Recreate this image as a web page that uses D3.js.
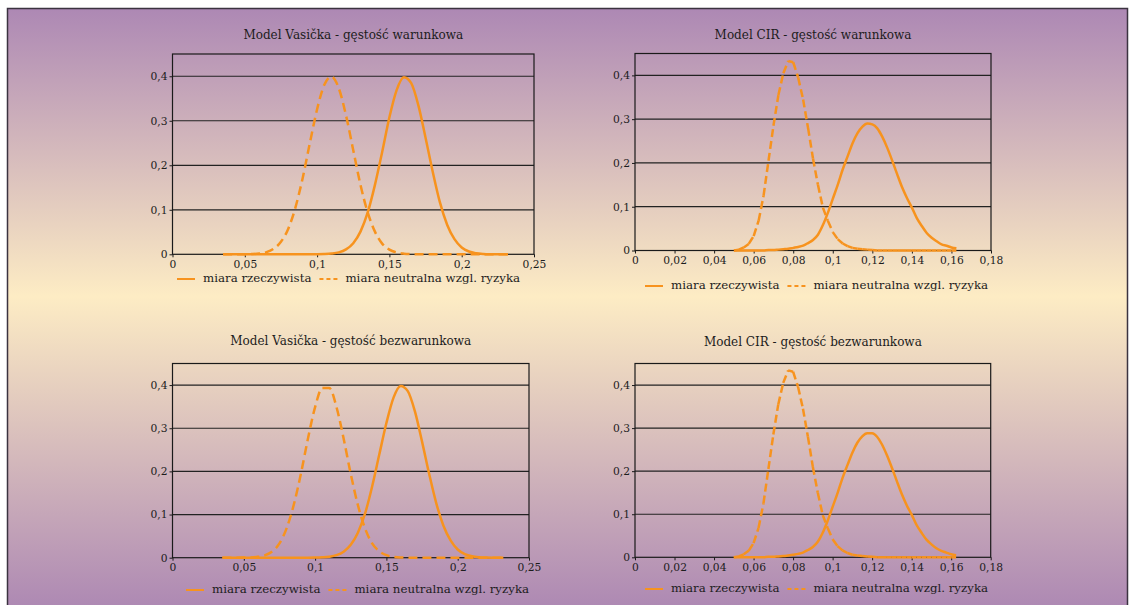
<!DOCTYPE html>
<html>
<head>
<meta charset="utf-8">
<script src="https://cdn.jsdelivr.net/npm/d3@7"></script>
<style>
  body { margin: 0; background: #fff; }
  svg { display: block; }
  text { font-family: "DejaVu Serif", serif; fill: #1c1c1c; }
</style>
</head>
<body>
<div id="chart"></div>
<script>
// titles and legend
const titles = [
  "Model Vasička - gęstość warunkowa",
  "Model CIR - gęstość warunkowa",
  "Model Vasička - gęstość bezwarunkowa",
  "Model CIR - gęstość bezwarunkowa"
];
const seriesNames = ["miara rzeczywista", "miara neutralna wzgl. ryzyka"];

// ticks
const vasXTicks = [0, 0.05, 0.1, 0.15, 0.2, 0.25];
const cirXTicks = [0, 0.02, 0.04, 0.06, 0.08, 0.1, 0.12, 0.14, 0.16, 0.18];
const yTicks = [0, 0.1, 0.2, 0.3, 0.4];

// Vasicek: x grid
const vasX = [0.035, 0.04, 0.045, 0.05, 0.055, 0.06, 0.065, 0.07, 0.075, 0.08,
  0.085, 0.09, 0.095, 0.1, 0.105, 0.11, 0.115, 0.12, 0.125, 0.13,
  0.135, 0.14, 0.145, 0.15, 0.155, 0.16, 0.165, 0.17, 0.175, 0.18,
  0.185, 0.19, 0.195, 0.2, 0.205, 0.21, 0.215, 0.22, 0.225, 0.23, 0.232];

const vasRealCond = [0, 0, 0, 0, 0, 0, 0, 0, 0, 0,
  0, 0, 0, 0.0001, 0.0005, 0.0016, 0.0043, 0.011, 0.025, 0.051,
  0.094, 0.156, 0.23, 0.308, 0.369, 0.398, 0.385, 0.335, 0.262, 0.185,
  0.116, 0.066, 0.034, 0.0154, 0.0063, 0.0024, 0.0008, 0.0002, 0, 0, 0];
const vasNeutralCond = [0, 0, 0, 0.0001, 0.0005, 0.0017, 0.0048, 0.0125, 0.028, 0.057,
  0.105, 0.171, 0.25, 0.326, 0.381, 0.399, 0.373, 0.312, 0.234, 0.156,
  0.094, 0.051, 0.024, 0.0104, 0.004, 0.0014, 0.0004, 0, 0, 0,
  0, 0, 0, 0, 0, 0, 0, 0, 0, 0, 0];

const vasRealUncond = [0, 0, 0, 0, 0, 0, 0, 0, 0, 0,
  0, 0, 0, 0.0002, 0.0008, 0.0022, 0.0058, 0.014, 0.03, 0.058,
  0.102, 0.165, 0.239, 0.312, 0.371, 0.398, 0.386, 0.339, 0.269, 0.194,
  0.126, 0.074, 0.04, 0.019, 0.0083, 0.0033, 0.0012, 0.0004, 0.0001, 0, 0];
const vasNeutralUncond = [0, 0, 0, 0.0002, 0.0006, 0.002, 0.0058, 0.0148, 0.033, 0.068,
  0.122, 0.194, 0.276, 0.349, 0.393, 0.393, 0.349, 0.276, 0.194, 0.122,
  0.068, 0.033, 0.0148, 0.0058, 0.002, 0.0006, 0.0002, 0, 0, 0,
  0, 0, 0, 0, 0, 0, 0, 0, 0, 0, 0];

// CIR: x grid
const cirX = [0.05, 0.0525, 0.055, 0.0575, 0.06, 0.0625, 0.065, 0.0675, 0.07, 0.0725,
  0.075, 0.0775, 0.08, 0.0825, 0.085, 0.0875, 0.09, 0.0925, 0.095, 0.0975,
  0.1, 0.1025, 0.105, 0.1075, 0.11, 0.1125, 0.115, 0.1175, 0.12, 0.1225,
  0.125, 0.1275, 0.13, 0.1325, 0.135, 0.1375, 0.14, 0.1425, 0.145, 0.1475,
  0.15, 0.1525, 0.155, 0.1575, 0.16, 0.1625];

const cirRealCond = [0, 0, 0, 0, 0, 0, 0, 0.001, 0.001, 0.002,
  0.003, 0.004, 0.006, 0.008, 0.011, 0.017, 0.024, 0.036, 0.058, 0.086,
  0.118, 0.15, 0.185, 0.215, 0.245, 0.268, 0.283, 0.29, 0.288, 0.279,
  0.26, 0.235, 0.206, 0.175, 0.145, 0.12, 0.098, 0.074, 0.056, 0.04,
  0.029, 0.021, 0.014, 0.011, 0.007, 0.005];
const cirNeutralCond = [0, 0.002, 0.007, 0.015, 0.033, 0.068, 0.125, 0.205, 0.285, 0.355,
  0.405, 0.433, 0.43, 0.395, 0.345, 0.28, 0.21, 0.15, 0.098, 0.068,
  0.042, 0.026, 0.016, 0.01, 0.006, 0.004, 0.003, 0.002, 0.001, 0,
  0, 0, 0, 0, 0, 0, 0, 0, 0, 0,
  0, 0, 0, 0, 0, 0];

const cirRealUncond = [0, 0, 0, 0, 0, 0, 0, 0.001, 0.001, 0.002,
  0.003, 0.004, 0.006, 0.008, 0.011, 0.017, 0.024, 0.036, 0.057, 0.085,
  0.117, 0.149, 0.184, 0.214, 0.243, 0.266, 0.281, 0.288, 0.288, 0.28,
  0.262, 0.237, 0.208, 0.177, 0.147, 0.121, 0.099, 0.075, 0.057, 0.041,
  0.03, 0.021, 0.015, 0.011, 0.007, 0.005];
const cirNeutralUncond = [0, 0.002, 0.007, 0.015, 0.033, 0.068, 0.125, 0.205, 0.285, 0.355,
  0.405, 0.434, 0.431, 0.396, 0.345, 0.28, 0.21, 0.15, 0.098, 0.068,
  0.042, 0.026, 0.016, 0.01, 0.006, 0.004, 0.003, 0.002, 0.001, 0,
  0, 0, 0, 0, 0, 0, 0, 0, 0, 0,
  0, 0, 0, 0, 0, 0];

const W = 1130, H = 605;
const orange = "#f7931e";
const pl = d3.formatLocale({ decimal: ",", thousands: " ", grouping: [3], currency: ["", " zł"] });
const fmt = pl.format("~g");

const svg = d3.select("#chart").append("svg").attr("width", W).attr("height", H);

// background gradient
const grad = svg.append("defs").append("linearGradient")
  .attr("id", "bg").attr("x1", 0).attr("y1", 0).attr("x2", 0).attr("y2", 1);
grad.append("stop").attr("offset", "0%").attr("stop-color", "#ad88b4");
grad.append("stop").attr("offset", "48%").attr("stop-color", "#fdecc4");
grad.append("stop").attr("offset", "100%").attr("stop-color", "#ad88b3");

svg.append("rect")
  .attr("x", 7.5).attr("y", 8.5).attr("width", 1120).attr("height", 600)
  .attr("fill", "url(#bg)").attr("stroke", "#3b3340").attr("stroke-width", 1.5);

const panels = [
  { title: titles[0], xs: vasX, real: vasRealCond, neutral: vasNeutralCond, ticks: vasXTicks, xMax: 0.25,
    box: [172.5, 54, 534, 254.3], titleY: 35, legend: [177, 279], seg: false },
  { title: titles[1], xs: cirX, real: cirRealCond, neutral: cirNeutralCond, ticks: cirXTicks, xMax: 0.18,
    box: [635, 53.5, 991, 250.5], titleY: 35, legend: [645, 286], seg: true },
  { title: titles[2], xs: vasX, real: vasRealUncond, neutral: vasNeutralUncond, ticks: vasXTicks, xMax: 0.25,
    box: [172.5, 363.5, 529, 557.7], titleY: 341, legend: [186, 590], seg: false },
  { title: titles[3], xs: cirX, real: cirRealUncond, neutral: cirNeutralUncond, ticks: cirXTicks, xMax: 0.18,
    box: [635, 363.5, 990.7, 557.3], titleY: 342, legend: [645, 589], seg: true }
];

panels.forEach(p => {
  const [x0, y0, x1, y1] = p.box;
  const x = d3.scaleLinear().domain([0, p.xMax]).range([x0, x1]);
  const y = d3.scaleLinear().domain([0, 0.45]).range([y1, y0]);
  const g = svg.append("g");

  // title
  g.append("text")
    .attr("x", (x0 + x1) / 2).attr("y", p.titleY)
    .attr("text-anchor", "middle").attr("dominant-baseline", "middle")
    .style("font-size", "12px")
    .text(p.title);

  // gridlines
  g.append("g").selectAll("line")
    .data(yTicks.filter(d => d > 0))
    .join("line")
    .attr("x1", x0).attr("x2", x1)
    .attr("y1", d => y(d)).attr("y2", d => y(d))
    .attr("stroke", "#222").attr("stroke-width", 1.2);

  // frame
  g.append("rect")
    .attr("x", x0).attr("y", y0).attr("width", x1 - x0).attr("height", y1 - y0)
    .attr("fill", "none").attr("stroke", "#1a1a1a").attr("stroke-width", 1.2);

  // axes
  const ax = g.append("g").attr("transform", `translate(0,${y1})`)
    .call(d3.axisBottom(x).tickValues(p.ticks).tickFormat(fmt).tickSize(3).tickPadding(3));
  const ay = g.append("g").attr("transform", `translate(${x0},0)`)
    .call(d3.axisLeft(y).tickValues(yTicks).tickFormat(fmt).tickSize(3).tickPadding(2));
  [ax, ay].forEach(a => {
    a.select(".domain").remove();
    a.selectAll("line").attr("stroke", "#1a1a1a");
    a.selectAll("text").style("font-size", "10.7px").attr("fill", "#1c1c1c")
      .style("font-family", "DejaVu Serif, serif");
  });

  const line = d3.line()
    .x((d, i) => x(p.xs[i]))
    .y(d => y(d))
    .curve(d3.curveMonotoneX);

  // real measure: solid
  g.append("path")
    .attr("d", line(p.real))
    .attr("fill", "none").attr("stroke", orange).attr("stroke-width", 2.5);

  // risk neutral: dashed
  if (p.seg) {
    // dash pattern restarts on every data segment
    g.append("g").selectAll("line")
      .data(d3.range(p.xs.length - 1))
      .join("line")
      .attr("x1", i => x(p.xs[i])).attr("y1", i => y(p.neutral[i]))
      .attr("x2", i => x(p.xs[i + 1])).attr("y2", i => y(p.neutral[i + 1]))
      .attr("stroke", orange).attr("stroke-width", 2.5)
      .attr("stroke-dasharray", "8,4");
  } else {
    g.append("path")
      .attr("d", line(p.neutral))
      .attr("fill", "none").attr("stroke", orange).attr("stroke-width", 2.5)
      .attr("stroke-dasharray", "9,5");
  }

  // legend
  let lx = p.legend[0];
  const ly = p.legend[1];
  seriesNames.forEach((name, i) => {
    g.append("line")
      .attr("x1", lx).attr("x2", lx + 18).attr("y1", ly).attr("y2", ly)
      .attr("stroke", orange).attr("stroke-width", 2)
      .attr("stroke-dasharray", i === 1 ? "4,3" : null);
    const t = g.append("text")
      .attr("x", lx + 26).attr("y", ly)
      .attr("dominant-baseline", "middle")
      .style("font-size", "11.8px")
      .text(name);
    lx += 26 + t.node().getComputedTextLength() + 8;
  });
});
</script>
</body>
</html>
